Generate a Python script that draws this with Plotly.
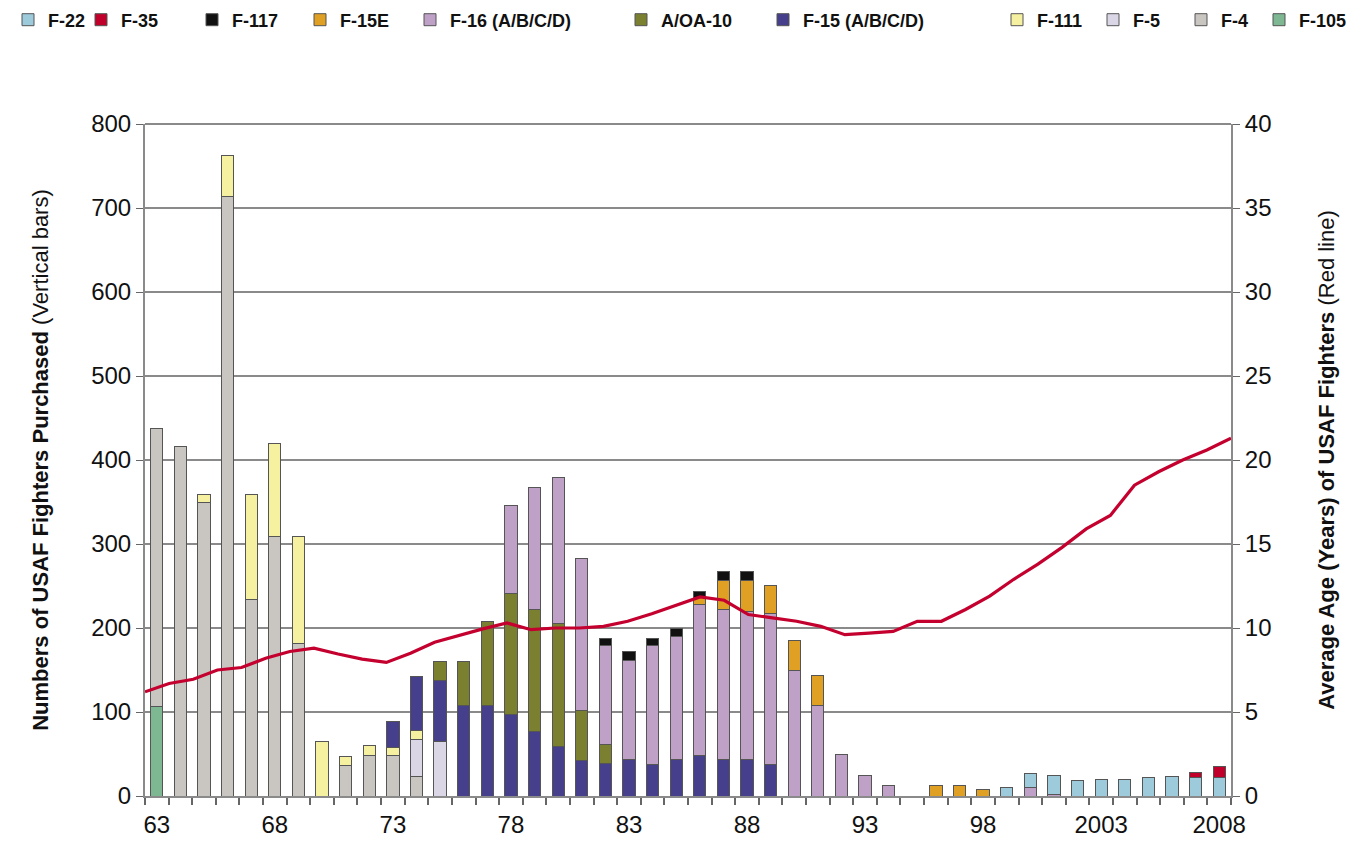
import plotly.graph_objects as go

years = list(range(1963, 2009))

# Aircraft purchased per year (bars), 1963..2008 (46 values each)
f105 = [106, 0, 0, 0, 0, 0, 0, 0, 0, 0,
        0, 0, 0, 0, 0, 0, 0, 0, 0, 0,
        0, 0, 0, 0, 0, 0, 0, 0, 0, 0,
        0, 0, 0, 0, 0, 0, 0, 0, 0, 0,
        0, 0, 0, 0, 0, 0]
f4 = [332, 416, 350, 714, 234, 309, 181, 0, 36, 48,
      48, 23, 0, 0, 0, 0, 0, 0, 0, 0,
      0, 0, 0, 0, 0, 0, 0, 0, 0, 0,
      0, 0, 0, 0, 0, 0, 0, 0, 0, 0,
      0, 0, 0, 0, 0, 0]
f5 = [0, 0, 0, 0, 0, 0, 0, 0, 0, 0,
      0, 44, 65, 0, 0, 0, 0, 0, 0, 0,
      0, 0, 0, 0, 0, 0, 0, 0, 0, 0,
      0, 0, 0, 0, 0, 0, 0, 0, 0, 0,
      0, 0, 0, 0, 0, 0]
f111 = [0, 0, 9, 49, 125, 111, 128, 65, 11, 12,
        10, 11, 0, 0, 0, 0, 0, 0, 0, 0,
        0, 0, 0, 0, 0, 0, 0, 0, 0, 0,
        0, 0, 0, 0, 0, 0, 0, 0, 0, 0,
        0, 0, 0, 0, 0, 0]
f15 = [0, 0, 0, 0, 0, 0, 0, 0, 0, 0,
       31, 64, 72, 108, 108, 97, 77, 59, 42, 39,
       43, 37, 43, 48, 43, 43, 37, 0, 0, 0,
       0, 0, 0, 0, 0, 0, 0, 0, 0, 0,
       0, 0, 0, 0, 0, 0]
a10 = [0, 0, 0, 0, 0, 0, 0, 0, 0, 0,
       0, 0, 23, 52, 100, 144, 145, 146, 60, 22,
       0, 0, 0, 0, 0, 0, 0, 0, 0, 0,
       0, 0, 0, 0, 0, 0, 0, 0, 0, 0,
       0, 0, 0, 0, 0, 0]
f16 = [0, 0, 0, 0, 0, 0, 0, 0, 0, 0,
       0, 0, 0, 0, 0, 105, 145, 174, 181, 118,
       118, 142, 147, 180, 179, 177, 180, 149, 108, 50,
       24, 12, 0, 0, 0, 0, 0, 10, 2, 0,
       0, 0, 0, 0, 0, 0]
f15e = [0, 0, 0, 0, 0, 0, 0, 0, 0, 0,
        0, 0, 0, 0, 0, 0, 0, 0, 0, 0,
        0, 0, 0, 8, 34, 36, 34, 36, 36, 0,
        0, 0, 0, 12, 12, 8, 0, 0, 0, 0,
        0, 0, 0, 0, 0, 0]
f117 = [0, 0, 0, 0, 0, 0, 0, 0, 0, 0,
        0, 0, 0, 0, 0, 0, 0, 0, 0, 8,
        11, 8, 9, 8, 11, 11, 0, 0, 0, 0,
        0, 0, 0, 0, 0, 0, 0, 0, 0, 0,
        0, 0, 0, 0, 0, 0]
f22 = [0, 0, 0, 0, 0, 0, 0, 0, 0, 0,
       0, 0, 0, 0, 0, 0, 0, 0, 0, 0,
       0, 0, 0, 0, 0, 0, 0, 0, 0, 0,
       0, 0, 0, 0, 0, 0, 10, 17, 22, 18,
       20, 20, 22, 23, 22, 22]
f35 = [0, 0, 0, 0, 0, 0, 0, 0, 0, 0,
       0, 0, 0, 0, 0, 0, 0, 0, 0, 0,
       0, 0, 0, 0, 0, 0, 0, 0, 0, 0,
       0, 0, 0, 0, 0, 0, 0, 0, 0, 0,
       0, 0, 0, 0, 6, 13]

# Average age of USAF fighters (red line)
avg_age = [6.2, 6.7, 6.95, 7.5, 7.65, 8.2, 8.6, 8.8, 8.45, 8.15,
           7.95, 8.5, 9.15, 9.55, 9.95, 10.3, 9.9, 10.0, 10.0, 10.1,
           10.4, 10.85, 11.35, 11.85, 11.65, 10.8, 10.6, 10.4, 10.1, 9.6,
           9.7, 9.8, 10.4, 10.4, 11.1, 11.9, 12.9, 13.8, 14.8, 15.9,
           16.7, 18.5, 19.3, 20.0, 20.6, 21.3]

tick_years = [1963, 1968, 1973, 1978, 1983, 1988, 1993, 1998, 2003, 2008]
tick_text = ["63", "68", "73", "78", "83", "88", "93", "98", "2003", "2008"]

# stacking order (bottom -> top), name, colour, legend swatch left (page px)
series = [
    ("F-105", f105, "#7DB893", 1284),
    ("F-4", f4, "#C9C6C2", 1206),
    ("F-5", f5, "#DAD6E6", 1118),
    ("F-111", f111, "#F5F1A0", 1022),
    ("F-15 (A/B/C/D)", f15, "#46408C", 788),
    ("A/OA-10", a10, "#7A8030", 646),
    ("F-16 (A/B/C/D)", f16, "#BFA1C8", 435),
    ("F-15E", f15e, "#E0A024", 325),
    ("F-117", f117, "#111111", 217),
    ("F-22", f22, "#9DCBDB", 9),
    ("F-35", f35, "#C0002A", 106),
]

FONT = "Liberation Sans, Arial, sans-serif"
W, H = 1367, 842

fig = go.Figure()
layout_legends = {}
for i, (name, vals, color, lx) in enumerate(series):
    lg = "legend" if i == 0 else f"legend{i + 1}"
    fig.add_trace(go.Bar(
        x=years, y=vals, name=name, legend=lg,
        marker=dict(color=color, line=dict(color="#555555", width=1)),
    ))
    layout_legends[lg] = dict(
        xref="container", yref="container",
        x=max(lx - 33, 0) / W, y=1 - 12 / H, xanchor="left", yanchor="middle",
        orientation="h", bgcolor="rgba(0,0,0,0)",
        font=dict(family=FONT, size=18, color="#111111", weight="bold"),
        itemwidth=30, itemclick=False,
    )

fig.add_trace(go.Scatter(
    x=years, y=avg_age, mode="lines", name="Average age",
    line=dict(color="#C4002F", width=3.2), xaxis="x2", yaxis="y2",
    showlegend=False,
))

fig.update_layout(
    width=W, height=H,
    margin=dict(l=137, r=144, t=116, b=52),
    paper_bgcolor="white", plot_bgcolor="white",
    barmode="stack", bargap=0.48,
    font=dict(family=FONT, color="#111111"),
    xaxis=dict(
        range=[1962.5, 2008.5], tickmode="array", tickvals=tick_years,
        ticktext=tick_text, ticks="", showgrid=False, zeroline=False,
        showline=True, linecolor="#8a8a8a", linewidth=2,
        tickfont=dict(size=24, family=FONT, color="#111111"),
        ticklabelstandoff=6,
        minor=dict(tickmode="linear", tick0=1962.5, dtick=1, ticks="outside",
                   ticklen=7, tickcolor="#666666", tickwidth=1.5, showgrid=False),
    ),
    xaxis2=dict(range=[1963, 2008], overlaying="x", visible=False),
    yaxis=dict(
        range=[0, 800], dtick=100, showgrid=True, gridcolor="#8a8a8a", gridwidth=1.5,
        zeroline=False, showline=True, linecolor="#8a8a8a", linewidth=2,
        ticks="outside", ticklen=7, tickcolor="#666666",
        tickfont=dict(size=24, family=FONT, color="#111111"),
        title=dict(text="<b>Numbers of USAF Fighters Purchased</b> (Vertical bars)",
                   font=dict(size=22, family=FONT, color="#111111"), standoff=36),
    ),
    yaxis2=dict(
        range=[0, 40], dtick=5, overlaying="y", side="right", showgrid=False,
        zeroline=False, showline=True, linecolor="#8a8a8a", linewidth=2,
        ticks="outside", ticklen=7, tickcolor="#666666",
        tickfont=dict(size=24, family=FONT, color="#111111"),
        title=dict(text="<b>Average Age (Years) of USAF Fighters</b> (Red line)",
                   font=dict(size=22, family=FONT, color="#111111"), standoff=48),
    ),
    shapes=[dict(type="line", xref="paper", yref="paper", x0=0, x1=1, y0=1, y1=1,
                 line=dict(color="#8a8a8a", width=2))],
    **layout_legends,
)

fig.write_html("out.html")
